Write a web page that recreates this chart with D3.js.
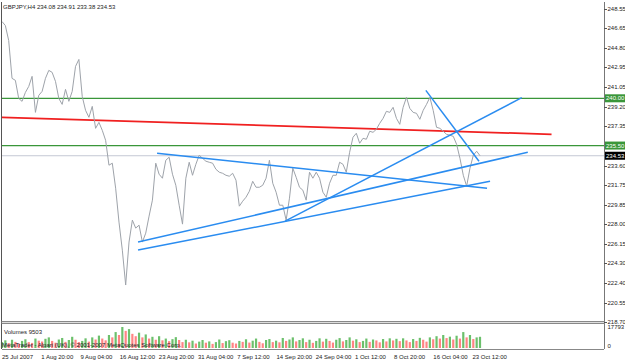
<!DOCTYPE html>
<meta charset="utf-8">
<style>
    body { margin: 0; background: #fff; }
    text { font-family: "Liberation Sans", Arial, sans-serif; font-size: 6px; fill: #222; }
</style>
<svg width="625" height="361"></svg>
<script src="https://d3js.org/d3.v7.min.js"></script>
<script>
    // GBPJPY H4 closes
    var closes = [
        247.31, 246.93, 245.51, 241.90, 241.71, 239.99, 239.71, 240.56, 241.13, 242.09,
        238.66, 240.28, 240.66, 241.90, 242.66, 242.47, 241.61, 239.99, 239.42, 240.85,
        239.71, 240.66, 243.04, 243.70, 240.18, 238.85, 238.19, 239.23, 237.14, 237.71,
        236.95, 236.00, 233.63, 233.82, 231.44, 228.21, 225.54, 222.22, 226.31, 228.40,
        227.64, 227.92, 226.31, 227.16, 228.78, 230.30, 233.82, 232.77, 232.39, 234.10,
        234.39, 232.77, 231.72, 229.82, 228.02, 232.39, 233.91, 232.67, 233.72, 234.58,
        234.29, 234.01, 233.91, 233.82, 233.24, 232.96, 232.86, 232.67, 232.58, 232.86,
        232.20, 229.73, 230.20, 230.58, 231.15, 232.10, 231.53, 231.53, 231.72, 232.39,
        234.10, 231.91, 231.06, 229.82, 229.82, 228.40, 230.49, 233.34, 232.48, 231.53,
        231.25, 230.30, 232.96, 232.39, 232.96, 232.39, 231.06, 230.58, 231.91, 232.67,
        232.67, 233.91, 233.72, 232.96, 234.86, 236.29, 236.67, 235.72, 236.19, 236.10,
        236.86, 236.76, 237.05, 237.62, 238.09, 238.76, 238.66, 239.14, 238.09, 237.52,
        239.14, 240.09, 239.04, 238.66, 238.57, 238.00, 238.85, 239.42, 240.09, 238.85,
        237.24, 237.14, 236.86, 236.57, 236.48, 236.38, 235.62, 234.29, 232.67, 231.63,
        233.34, 234.58, 234.96, 234.53
    ];

    var volumes = [
        5000, 6500, 4200, 7000, 5200, 3800, 6000, 7400, 5000, 4300, 8000, 6200,
        5500, 7800, 9000, 6000, 4500, 7200, 8500, 5200, 6800, 9500, 7000, 5000,
        6000, 8200, 5400, 9000, 7200, 10500, 8000, 6500, 11000, 9000, 13500, 11000,
        17793, 14500, 16000, 12000, 10000, 13000, 9000, 11500, 8000, 9500, 7000, 10000,
        6500, 8000, 5800, 7500, 9200, 6800, 5000, 7000, 4800, 6200, 3800, 5400,
        6800, 4500, 5600, 3500, 5000, 7200, 4200, 5800, 6600, 4500, 3800, 6000,
        5200, 7400, 4600, 6200, 8000, 5200, 4000, 6800, 7600, 5000, 6200, 4800,
        8500, 6000, 7200, 9000, 5600, 6800, 8200, 5000, 7000, 4400, 6000, 8200,
        5400, 7800, 6000, 4600, 7000, 8400, 5600, 6800, 9000, 6200, 7400, 5000,
        6000, 8000, 5200, 7200, 6400, 4800, 7600, 5600, 8200, 6400, 7800, 5800,
        8200, 6400, 5000, 7600, 6000, 8600, 7000, 5400, 9000, 7400, 10000, 8000,
        11000, 8400, 9600, 7200, 10400, 8000, 13500, 9000, 11000, 7600, 9000, 9503
    ];

    var priceTicks = ["248.55", "246.65", "244.80", "242.95", "241.05", "239.20", "237.35",
        "233.60", "231.75", "229.85", "228.00", "226.15", "224.30", "222.40", "220.55", "218.70"];

    var timeLabels = ["25 Jul 2007", "1 Aug 20:00", "9 Aug 04:00", "16 Aug 12:00", "23 Aug 20:00",
        "31 Aug 04:00", "7 Sep 12:00", "14 Sep 20:00", "24 Sep 04:00", "1 Oct 12:00",
        "8 Oct 20:00", "16 Oct 04:00", "23 Oct 12:00"];

    var greenLevels = [240.00, 235.50];
    var bidPrice = 234.53;
    var ohlc = [234.08, 234.91, 233.38, 234.53];
    var volumeMax = 17793;

    // trend lines as [bar, price] pairs
    var redTrend = [[0, 238.19], [164.4, 236.57]];
    var blueTrends = [
        [[46.4, 234.77], [145.1, 231.44]],
        [[40.7, 226.31], [157.3, 234.86]],
        [[40.7, 225.55], [146.0, 232.10]],
        [[84.7, 228.30], [155.5, 240.06]],
        [[126.8, 240.75], [142.7, 234.00]]
    ];

    var svg = d3.select("svg");
    var padL = 2, axisX = 604, padT = 2, mainBottom = 321, volBottom = 349;
    var barsPerLabel = 11.73;

    var x = d3.scaleLinear().domain([0, closes.length - 1]).range([padL, 480]);
    var y = d3.scaleLinear().domain([218.70, 248.55]).range([322, 8.5]);
    var yv = d3.scaleLinear().domain([0, volumeMax]).range([348, 327]);

    svg.append("defs").append("clipPath").attr("id", "main")
        .append("rect").attr("x", padL).attr("y", padT).attr("width", axisX - padL).attr("height", mainBottom - padT);

    var main = svg.append("g").attr("clip-path", "url(#main)");

    // level lines
    main.selectAll(".lvl").data(greenLevels).enter().append("line")
        .attr("x1", padL).attr("x2", axisX)
        .attr("y1", function(d) { return y(d); }).attr("y2", function(d) { return y(d); })
        .attr("stroke", "#3a963a").attr("stroke-width", 1.2);

    main.append("line")
        .attr("x1", padL).attr("x2", axisX)
        .attr("y1", y(bidPrice)).attr("y2", y(bidPrice))
        .attr("stroke", "#c4c8d4").attr("stroke-width", 1);

    var seg = d3.line().x(function(d) { return x(d[0]); }).y(function(d) { return y(d[1]); });

    main.append("path").attr("d", seg(redTrend))
        .attr("fill", "none").attr("stroke", "#f02020").attr("stroke-width", 1.8);

    // price line
    main.append("path")
        .attr("d", d3.line().x(function(d, i) { return x(i); }).y(function(d) { return y(d); })(closes))
        .attr("fill", "none").attr("stroke", "#9ea3aa").attr("stroke-width", 1);

    main.selectAll(".trend").data(blueTrends).enter().append("path")
        .attr("d", seg)
        .attr("fill", "none").attr("stroke", "#2a8cf0").attr("stroke-width", 1.5);

    // volumes
    svg.append("g").selectAll("line").data(volumes).enter().append("line")
        .attr("x1", function(d, i) { return x(i); }).attr("x2", function(d, i) { return x(i); })
        .attr("y1", yv(0)).attr("y2", function(d) { return yv(d); })
        .attr("stroke", function(d, i) { return i > 0 && d < volumes[i - 1] ? "#ff8484" : "#6cc06c"; })
        .attr("stroke-width", 2.2);

    // frame
    svg.append("line").attr("x1", padL - 0.5).attr("x2", padL - 0.5).attr("y1", padT).attr("y2", volBottom).attr("stroke", "#555");
    svg.append("line").attr("x1", axisX + 0.5).attr("x2", axisX + 0.5).attr("y1", padT).attr("y2", volBottom).attr("stroke", "#777");
    svg.append("rect").attr("x", padL).attr("y", mainBottom + 0.5).attr("width", axisX - padL).attr("height", 2)
        .attr("fill", "#ddd").attr("stroke", "#888").attr("stroke-width", 1);
    svg.append("line").attr("x1", padL).attr("x2", axisX).attr("y1", volBottom + 0.5).attr("y2", volBottom + 0.5).attr("stroke", "#888");

    // price axis
    var ax = svg.append("g");
    ax.selectAll("line").data(priceTicks).enter().append("line")
        .attr("x1", axisX).attr("x2", axisX + 3)
        .attr("y1", function(d) { return Math.round(y(+d)) + 0.5; })
        .attr("y2", function(d) { return Math.round(y(+d)) + 0.5; })
        .attr("stroke", "#555");
    ax.selectAll("text").data(priceTicks).enter().append("text")
        .attr("x", axisX + 3.5).attr("y", function(d) { return y(+d) + 2; })
        .text(function(d) { return d; });

    function tag(price, fill) {
        var g = svg.append("g");
        g.append("rect").attr("x", axisX + 1).attr("y", y(price) - 4).attr("width", 20).attr("height", 8).attr("fill", fill);
        g.append("text").attr("x", axisX + 2).attr("y", y(price) + 2).style("fill", "#fff").text(price.toFixed(2));
    }
    greenLevels.forEach(function(p) { tag(p, "#3a963a"); });
    tag(bidPrice, "#000");

    // volume axis
    svg.append("text").attr("x", axisX + 3.5).attr("y", yv(volumeMax) + 2).text(volumeMax);
    svg.append("text").attr("x", axisX + 3.5).attr("y", yv(0)).text("0");

    // time axis
    svg.append("g").selectAll("text").data(timeLabels).enter().append("text")
        .attr("x", function(d, i) { return x(i * barsPerLabel); })
        .attr("y", 359)
        .text(function(d) { return d; });

    svg.append("text").attr("x", 3).attr("y", 9)
        .text("GBPJPY,H4  " + ohlc.map(function(v) { return v.toFixed(2); }).join(" "));
    svg.append("text").attr("x", 4).attr("y", 334).text("Volumes " + volumes[volumes.length - 1]);
    svg.append("text").attr("x", 2).attr("y", 346.5)
        .text("MetaTrader - Alpari (UK), \u00a9 2001-2007 MetaQuotes Software Corp.");
</script>
